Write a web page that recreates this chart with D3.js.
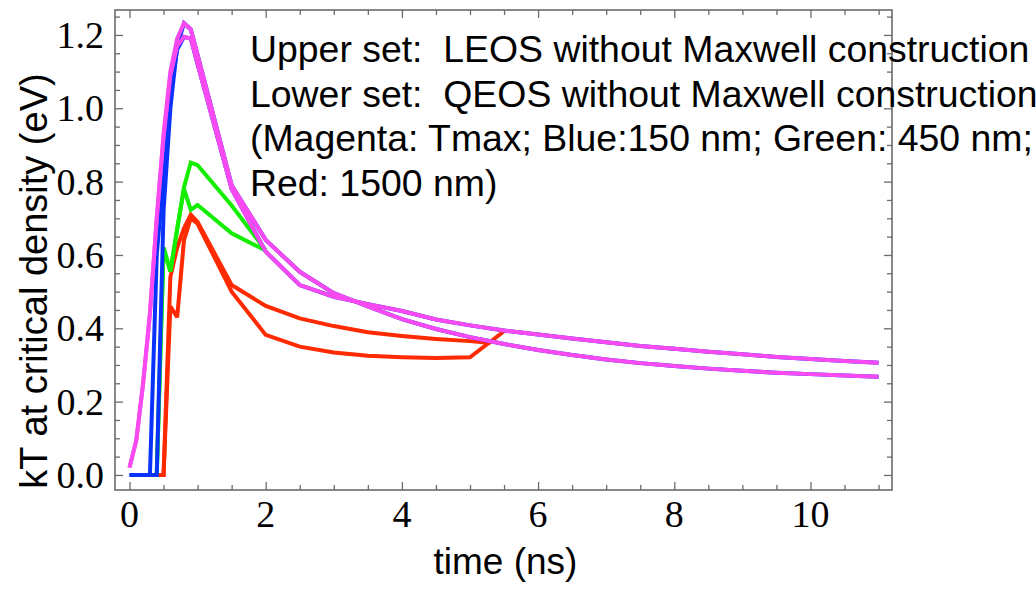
<!DOCTYPE html>
<html>
<head>
<meta charset="utf-8">
<script src="https://cdn.jsdelivr.net/npm/d3@7"></script>
<style>
  body { margin: 0; background: #fff; }
  svg { display: block; }
</style>
</head>
<body>
<div id="chart-container"></div>
<script>
// Time grids (ns)
const timesFull = [0, 0.1, 0.2, 0.3, 0.4, 0.5, 0.6, 0.7, 0.8, 0.9, 1.0,
    1.5, 2, 2.5, 3, 3.5, 4, 4.5, 5, 5.5, 6, 6.5, 7, 7.5, 8, 8.5, 9, 9.5, 10, 10.5, 11]
const timesGreen = [0.4, 0.5, 0.6, 0.7, 0.8, 0.9, 1.0, 1.5, 2.0]
const timesRedLower = [0.4, 0.5, 0.6, 0.7, 0.8, 0.9, 1.0, 1.5, 2, 2.5, 3, 3.5, 4, 4.5, 5, 5.5]
const timesRedUpper = [0.4, 0.5, 0.6, 0.7, 0.8, 0.9, 1.0, 1.5, 2, 2.5, 3, 3.5, 4, 4.5, 5, 5.3]

// kT at critical density (eV)
const tmaxUpper = [0.02, 0.095, 0.25, 0.44, 0.70, 0.93, 1.10, 1.19, 1.232, 1.215, 1.145,
    0.79, 0.641, 0.554, 0.496, 0.46, 0.425, 0.398, 0.376, 0.357, 0.341, 0.327, 0.315, 0.305,
    0.297, 0.29, 0.284, 0.279, 0.275, 0.271, 0.268]
const tmaxLower = [0.02, 0.095, 0.25, 0.44, 0.70, 0.92, 1.09, 1.17, 1.195, 1.19, 1.12,
    0.78, 0.609, 0.518, 0.486, 0.466, 0.447, 0.424, 0.408, 0.394, 0.383, 0.372, 0.362, 0.352,
    0.344, 0.336, 0.329, 0.322, 0.316, 0.311, 0.306]
const blue150Upper = [0, 0, 0, 0, 0, 0.72, 1.0, 1.17, 1.232, 1.215, 1.145,
    0.79, 0.641, 0.554, 0.496, 0.46, 0.425, 0.398, 0.376, 0.357, 0.341, 0.327, 0.315, 0.305,
    0.297, 0.29, 0.284, 0.279, 0.275, 0.271, 0.268]
const blue150Lower = [0, 0, 0, 0, 0.6, 0.82, 1.04, 1.16, 1.195, 1.19, 1.12,
    0.78, 0.609, 0.518, 0.486, 0.466, 0.447, 0.424, 0.408, 0.394, 0.383, 0.372, 0.362, 0.352,
    0.344, 0.336, 0.329, 0.322, 0.316, 0.311, 0.306]
const green450Upper = [0, 0.62, 0.555, 0.67, 0.785, 0.852, 0.845, 0.735, 0.612]
const green450Lower = [0, 0.62, 0.555, 0.67, 0.78, 0.723, 0.736, 0.659, 0.612]
const red1500Upper = [0, 0, 0.54, 0.62, 0.673, 0.71, 0.69, 0.518, 0.461, 0.427, 0.406,
    0.389, 0.379, 0.371, 0.365, 0.36]
const red1500Lower = [0, 0, 0.46, 0.43, 0.64, 0.70, 0.685, 0.50, 0.382, 0.35, 0.334,
    0.325, 0.321, 0.319, 0.321, 0.392]

const xTicksMajor = [0, 2, 4, 6, 8, 10]
const yTicksMajor = [0, 0.2, 0.4, 0.6, 0.8, 1.0, 1.2]
const annotationLines = [
    'Upper set:  LEOS without Maxwell construction',
    'Lower set:  QEOS without Maxwell construction',
    '(Magenta: Tmax; Blue:150 nm; Green: 450 nm;',
    'Red: 1500 nm)'
]

class CurvePlotter {
    constructor(options) {
        this.width = options.width
        this.height = options.height
        this.frame = options.frame

        this.xScale = d3.scaleLinear()
            .domain([-0.213, 11.197])
            .range([this.frame.left, this.frame.right])
        this.yScale = d3.scaleLinear()
            .domain([-0.041, 1.268])
            .range([this.frame.bottom, this.frame.top])

        this.svg = d3.select('#chart-container')
            .append('svg')
            .attr('width', this.width)
            .attr('height', this.height)
    }

    plot() {
        // Mathematica draws series in order, later ones on top
        this.#drawSeries(timesRedLower, red1500Lower, '#ff2a00')
        this.#drawSeries(timesRedUpper, red1500Upper, '#ff2a00')
        this.#drawSeries(timesGreen, green450Lower, '#14ee00')
        this.#drawSeries(timesGreen, green450Upper, '#14ee00')
        this.#drawSeries(timesFull, blue150Lower, '#0a32ff')
        this.#drawSeries(timesFull, blue150Upper, '#0a32ff')
        this.#drawSeries(timesFull, tmaxLower, '#f84af0')
        this.#drawSeries(timesFull, tmaxUpper, '#f84af0')
        this.#drawFrame()
        this.#drawLabels()
        this.#drawAnnotation()
    }

    #drawSeries(times, values, color) {
        const line = d3.line()
            .x((d, i) => this.xScale(times[i]))
            .y(d => this.yScale(d))
        this.svg.append('path')
            .datum(values)
            .attr('d', line)
            .attr('fill', 'none')
            .attr('stroke', color)
            .attr('stroke-width', 4)
            .attr('stroke-linejoin', 'miter')
            .attr('stroke-miterlimit', 3)
    }

    #drawFrame() {
        const f = this.frame
        const frameColor = '#6b6b6b'
        const xMinor = d3.range(0, 11.01, 0.5).filter(t => !xTicksMajor.includes(t))
        const yMinor = d3.range(0, 1.26, 0.05).map(v => +v.toFixed(2)).filter(v => !yTicksMajor.includes(v))

        const xAxisBottom = d3.axisBottom(this.xScale).tickValues(xTicksMajor).tickFormat('').tickSizeInner(-8).tickSizeOuter(0)
        const xAxisTop = d3.axisTop(this.xScale).tickValues(xTicksMajor).tickFormat('').tickSizeInner(-8).tickSizeOuter(0)
        const xMinorBottom = d3.axisBottom(this.xScale).tickValues(xMinor).tickFormat('').tickSizeInner(-5).tickSizeOuter(0)
        const xMinorTop = d3.axisTop(this.xScale).tickValues(xMinor).tickFormat('').tickSizeInner(-5).tickSizeOuter(0)
        const yAxisLeft = d3.axisLeft(this.yScale).tickValues(yTicksMajor).tickFormat('').tickSizeInner(-8).tickSizeOuter(0)
        const yAxisRight = d3.axisRight(this.yScale).tickValues(yTicksMajor).tickFormat('').tickSizeInner(-8).tickSizeOuter(0)
        const yMinorLeft = d3.axisLeft(this.yScale).tickValues(yMinor).tickFormat('').tickSizeInner(-5).tickSizeOuter(0)
        const yMinorRight = d3.axisRight(this.yScale).tickValues(yMinor).tickFormat('').tickSizeInner(-5).tickSizeOuter(0)

        const axes = [
            [xAxisBottom, 0, f.bottom], [xMinorBottom, 0, f.bottom],
            [xAxisTop, 0, f.top], [xMinorTop, 0, f.top],
            [yAxisLeft, f.left, 0], [yMinorLeft, f.left, 0],
            [yAxisRight, f.right, 0], [yMinorRight, f.right, 0]
        ]
        axes.forEach(([axis, tx, ty]) => {
            const g = this.svg.append('g')
                .attr('transform', 'translate(' + tx + ',' + ty + ')')
                .call(axis)
            g.select('.domain').remove()
            g.selectAll('line').attr('stroke', frameColor).attr('stroke-width', 1.3)
        })

        this.svg.append('rect')
            .attr('x', f.left)
            .attr('y', f.top)
            .attr('width', f.right - f.left)
            .attr('height', f.bottom - f.top)
            .attr('fill', 'none')
            .attr('stroke', frameColor)
            .attr('stroke-width', 1.6)
    }

    #drawLabels() {
        const f = this.frame
        const serif = '"Liberation Serif", "DejaVu Serif", serif'
        const sans = '"Liberation Sans", Arial, sans-serif'

        this.svg.append('g')
            .selectAll('text')
            .data(xTicksMajor)
            .enter()
            .append('text')
            .attr('x', d => this.xScale(d))
            .attr('y', 527)
            .attr('text-anchor', 'middle')
            .style('font-family', serif)
            .style('font-size', '38px')
            .text(d => d)

        this.svg.append('g')
            .selectAll('text')
            .data(yTicksMajor)
            .enter()
            .append('text')
            .attr('x', 104)
            .attr('y', d => this.yScale(d) + 13)
            .attr('text-anchor', 'end')
            .style('font-family', serif)
            .style('font-size', '38px')
            .text(d => d.toFixed(1))

        this.svg.append('text')
            .attr('x', (f.left + f.right) / 2 + 2)
            .attr('y', 574)
            .attr('text-anchor', 'middle')
            .style('font-family', sans)
            .style('font-size', '37px')
            .text('time (ns)')

        this.svg.append('text')
            .attr('transform', 'translate(47,281) rotate(-90)')
            .attr('text-anchor', 'middle')
            .style('font-family', sans)
            .style('font-size', '38px')
            .text('kT at critical density (eV)')
    }

    #drawAnnotation() {
        this.svg.append('g')
            .selectAll('text')
            .data(annotationLines)
            .enter()
            .append('text')
            .attr('x', 250)
            .attr('y', (d, i) => 62 + i * 44.7)
            .style('font-family', '"Liberation Sans", Arial, sans-serif')
            .style('font-size', '37.4px')
            .style('white-space', 'pre')
            .attr('xml:space', 'preserve')
            .text(d => d)
    }
}

const plotter = new CurvePlotter({
    width: 1036,
    height: 590,
    frame: { left: 115, right: 892, top: 10, bottom: 490 }
})
plotter.plot()
</script>
</body>
</html>
